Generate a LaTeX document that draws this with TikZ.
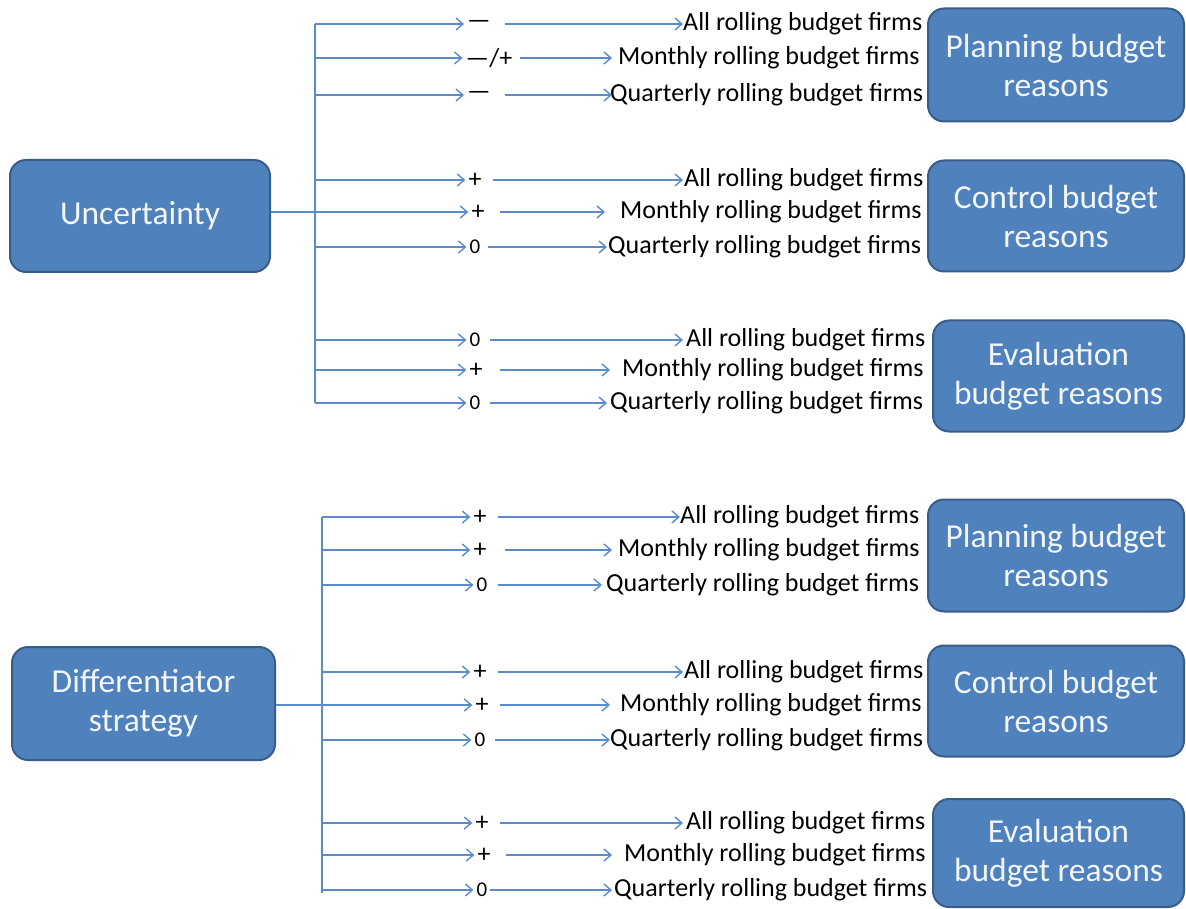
\documentclass[tikz,border=0pt]{standalone}
\usepackage{fontspec}
\setmainfont{Carlito}
\usetikzlibrary{arrows.meta}
\definecolor{boxfill}{HTML}{4F81BD}
\definecolor{boxline}{HTML}{385D8A}
\definecolor{lnblue}{HTML}{5B8BC8}
\definecolor{boxtext}{HTML}{F2F6FB}
\tikzset{
  bigbox/.style={draw=boxline, line width=2pt, fill=boxfill, rounded corners=16pt,
    text=boxtext, align=center, inner sep=0pt,
    font=\fontsize{33.5}{39}\selectfont},
  sgn/.style={inner xsep=3pt, inner ysep=0pt, font=\fontsize{26}{30}\selectfont},
  firm/.style={anchor=west, inner xsep=0pt, inner ysep=0pt, font=\fontsize{26}{30}\selectfont},
  arr/.style={draw=lnblue, line width=1.4pt, -{Straight Barb[length=7pt,width=12pt]}},
  bus/.style={draw=lnblue, line width=1.4pt},
}
\newcommand\zr{{\fontsize{21}{24}\selectfont 0}}
% #1 name, #2 bus x, #3 y, #4 sign x, #5 sign, #6 arrow-2 start x, #7 arrow tip x, #8 text x, #9 text
\newcommand\brow[9]{%
  \coordinate (#1b) at (#2,#3);
  \node[sgn] (#1s) at (#4,#3) {#5};
  \coordinate (#1a) at (#6,#3);
  \node[firm] (#1f) at (#8,#3) {#9};
  \draw[arr] (#1b) -- (#1s);
  \draw[arr, shorten >={(#8-#7)*1pt}] (#1a) -- (#1f);
}
\begin{document}
\begin{tikzpicture}[x=1pt,y=-1pt]
\useasboundingbox (0,0) rectangle (1186,909);
% left boxes
\node[bigbox, minimum width=260pt, minimum height=112pt] (unc) at (140,216) {Uncertainty};
\node[bigbox, minimum width=263pt, minimum height=113pt] (dif) at (143.5,703.5) {Differentiator\\strategy};
% right boxes top
\node[bigbox, minimum width=256pt, minimum height=113pt] (pl1) at (1056,65) {Planning budget\\reasons};
\node[bigbox, minimum width=256pt, minimum height=111pt] (co1) at (1056,216) {Control budget\\reasons};
\node[bigbox, minimum width=251pt, minimum height=111pt] (ev1) at (1058.5,376) {Evaluation\\budget reasons};
% right boxes bottom
\node[bigbox, minimum width=256pt, minimum height=112pt] (pl2) at (1056,555.5) {Planning budget\\reasons};
\node[bigbox, minimum width=256pt, minimum height=111pt] (co2) at (1056,701) {Control budget\\reasons};
\node[bigbox, minimum width=251pt, minimum height=108pt] (ev2) at (1058.5,853) {Evaluation\\budget reasons};
% top group
\brow{t1}{315}{24}{479}{—}{505}{683}{683}{All rolling budget firms}
\brow{t2}{315}{58}{489}{—/+}{520}{612}{618}{Monthly rolling budget firms}
\brow{t3}{315}{95}{479}{—}{505}{612}{610}{Quarterly rolling budget firms}
\brow{t4}{315}{180}{475}{+}{493}{683}{684}{All rolling budget firms}
\brow{t5}{315}{212}{478}{+}{500}{605}{620}{Monthly rolling budget firms}
\brow{t6}{315}{247}{475}{\zr}{488}{607}{608}{Quarterly rolling budget firms}
\brow{t7}{315}{340}{475}{\zr}{490}{683}{686}{All rolling budget firms}
\brow{t8}{315}{370}{476}{+}{500}{610}{622}{Monthly rolling budget firms}
\brow{t9}{315}{403}{475}{\zr}{490}{607}{610}{Quarterly rolling budget firms}
\draw[bus] (t1b) -- (t9b);
\draw[bus] (t5b -| unc.east) -- (t5b);
% bottom group
\brow{b1}{322}{517}{480}{+}{498}{680}{680}{All rolling budget firms}
\brow{b2}{322}{550}{480}{+}{505}{612}{618}{Monthly rolling budget firms}
\brow{b3}{322}{585}{482}{\zr}{498}{602}{606}{Quarterly rolling budget firms}
\brow{b4}{322}{672}{480}{+}{498}{683}{684}{All rolling budget firms}
\brow{b5}{322}{705}{482}{+}{500}{610}{620}{Monthly rolling budget firms}
\brow{b6}{322}{740}{480}{\zr}{495}{610}{610}{Quarterly rolling budget firms}
\brow{b7}{322}{823}{482}{+}{500}{683}{686}{All rolling budget firms}
\brow{b8}{322}{855}{484}{+}{506}{612}{624}{Monthly rolling budget firms}
\brow{b9}{322}{890}{482}{\zr}{490}{612}{614}{Quarterly rolling budget firms}
\coordinate (bend) at (322,893);
\draw[bus] (b1b) -- (bend);
\draw[bus] (b5b -| dif.east) -- (b5b);
\end{tikzpicture}
\end{document}
